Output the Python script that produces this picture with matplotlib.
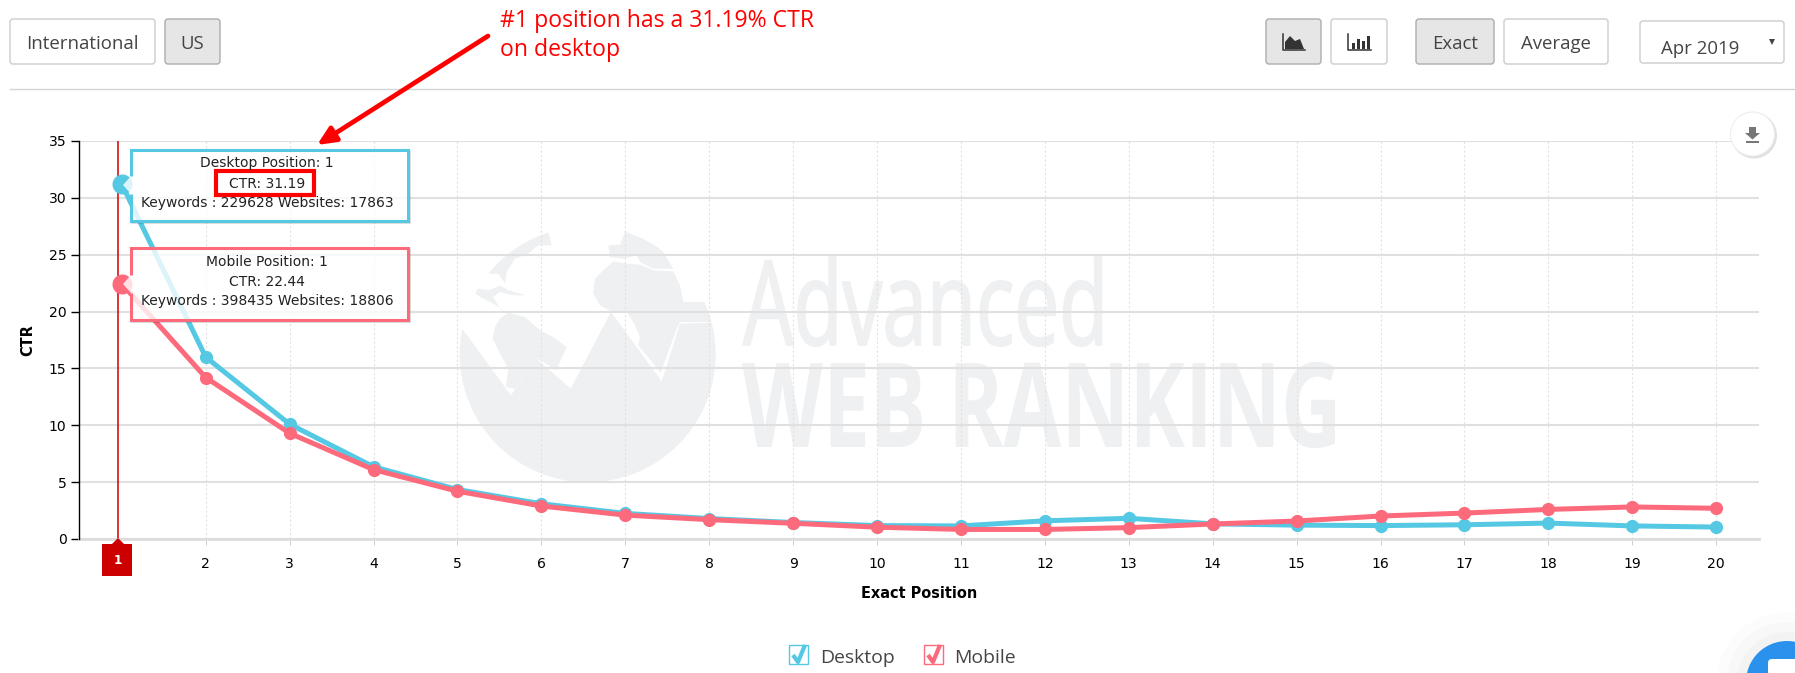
import matplotlib
matplotlib.use("Agg")
import matplotlib.patheffects as pe
import matplotlib.pyplot as plt
from matplotlib.patches import Circle, FancyBboxPatch, Polygon, Rectangle
from matplotlib.transforms import Affine2D

W, H = 1795, 673

positions = list(range(1, 21))
desktop_ctr = [31.19, 16.0, 10.1, 6.35, 4.35, 3.1, 2.25, 1.8, 1.45, 1.18, 1.15, 1.6, 1.82, 1.33,
               1.22, 1.18, 1.25, 1.4, 1.15, 1.05]
mobile_ctr = [22.44, 14.2, 9.3, 6.1, 4.2, 2.9, 2.1, 1.7, 1.38, 1.04, 0.84, 0.84, 1.0, 1.32,
              1.58, 2.02, 2.28, 2.6, 2.82, 2.7]
y_ticks = [0, 5, 10, 15, 20, 25, 30, 35]
top_note = ["#1 position has a 31.19% CTR", "on desktop"]
desktop_tip = ["Desktop Position: 1", "CTR: 31.19", "Keywords : 229628 Websites: 17863"]
mobile_tip = ["Mobile Position: 1", "CTR: 22.44", "Keywords : 398435 Websites: 18806"]

BLUE = "#55c8e4"
PINK = "#fd6a7c"
RED = "#ff0000"
DARK_RED = "#cc0000"
MARK = "#eff0f2"
UI_TEXT = "#444444"


class Squeeze(pe.AbstractPathEffect):
    """Scale glyphs about the baseline, the logo lettering is very condensed."""

    def __init__(self, sx, stroke=0.0):
        super().__init__()
        self.sx = sx
        self.stroke = stroke

    def draw_path(self, renderer, gc, tpath, affine, rgbFace=None):
        gc0 = renderer.new_gc()
        gc0.copy_properties(gc)
        gc0.set_foreground(MARK)
        gc0.set_linewidth(self.stroke)
        renderer.draw_path(gc0, tpath, Affine2D().scale(self.sx, 1.0) + affine, rgbFace)
        gc0.restore()


def px(v):
    return v * 0.72


fig = plt.figure(figsize=(W / 100, H / 100), dpi=100)
fig.patch.set_facecolor("white")

# pixel canvas for the page furniture, y runs down like the screenshot
page = fig.add_axes([0, 0, 1, 1], zorder=0)
page.set_xlim(0, W)
page.set_ylim(H, 0)
page.axis("off")

top = fig.add_axes([0, 0, 1, 1], zorder=5)
top.set_xlim(0, W)
top.set_ylim(H, 0)
top.axis("off")
top.patch.set_alpha(0)


def button(x0, x1, y0, y1, active=False, label=None):
    face = "#e6e6e6" if active else "white"
    edge = "#adadad" if active else "#cccccc"
    page.add_patch(FancyBboxPatch((x0 + 3, y0 + 3), x1 - x0 - 6, y1 - y0 - 6,
                                  boxstyle="round,pad=3,rounding_size=3", fc=face, ec=edge, lw=1))
    if label:
        page.text((x0 + x1) / 2, (y0 + y1) / 2 + 2.5, label, ha="center", va="center",
                  family="Open Sans", fontsize=px(18.6), color=UI_TEXT)


button(10, 155, 19, 64, label="International")
button(165, 220, 19, 64, active=True, label="US")
button(1266, 1321, 19, 64, active=True)
button(1331, 1387, 19, 64)
button(1416, 1494, 19, 64, active=True, label="Exact")
button(1504, 1608, 19, 64, label="Average")
button(1640, 1784, 21, 63)
page.text(1700, 48.5, "Apr 2019", ha="center", va="center", family="Open Sans", fontsize=px(18.6), color=UI_TEXT)
page.add_patch(Polygon([[1769, 39], [1775, 39], [1772, 45]], fc="#444444", ec="none"))
page.plot([10, W], [89, 89], color="#d5d5d5", lw=1)

# area and bar icons on the chart type buttons
page.plot([1283, 1283, 1305], [34, 50, 50], color="#333333", lw=1.1)
page.add_patch(Polygon([[1285, 49], [1285, 42], [1290, 36], [1295, 41], [1300, 39], [1304, 49]],
                       fc="#333333", ec="none"))
page.plot([1348, 1348, 1371], [34, 50, 50], color="#333333", lw=1.1)
for bar_x, bar_top in zip([1352, 1357, 1362, 1367], [43, 39, 41, 36]):
    page.add_patch(Rectangle((bar_x, bar_top), 2.5, 48.5 - bar_top, fc="#333333", ec="none"))

globe = Circle((587.7, 354.3), 128, transform=page.transData)


def wm(points):
    return [[450 + x / 3, 222 + y / 3] for x, y in points]


land = [
    # lower part of the globe with the zigzag cut out of it
    [[0, 300], [33, 315], [183, 520], [258, 408], [362, 500], [483, 270], [635, 478], [690, 305],
     [830, 300], [830, 800], [0, 800]],
    # north america
    [[110, 155], [170, 95], [250, 45], [295, 30], [305, 70], [265, 70], [235, 95], [195, 110],
     [170, 150], [165, 185], [145, 155]],
    [[70, 210], [85, 200], [115, 205], [130, 200], [150, 190], [175, 205], [230, 220], [190, 220],
     [150, 210], [130, 225], [150, 260], [170, 270], [130, 245], [90, 225]],
    # south america
    [[150, 290], [175, 272], [225, 285], [270, 325], [310, 345], [350, 375], [330, 420], [320, 445],
     [280, 420], [258, 408], [195, 500], [168, 495], [175, 440], [150, 395], [128, 350], [135, 315]],
    # europe and asia
    [[475, 70], [510, 68], [525, 30], [500, 15], [530, 25], [600, 55], [640, 90], [670, 140],
     [610, 140], [570, 120], [560, 100], [520, 110], [480, 105]],
    # africa and the rest up to the rim
    [[490, 118], [530, 125], [570, 128], [610, 145], [670, 148], [690, 190], [700, 240], [830, 240],
     [830, 300], [690, 300], [680, 320], [632, 452], [565, 370], [570, 345], [550, 300], [530, 270],
     [483, 268], [450, 250], [430, 215], [435, 170], [460, 145]],
]
for shape in land:
    patch = Polygon(wm(shape), fc=MARK, ec="none")
    page.add_patch(patch)
    patch.set_clip_path(globe)


def logo_word(text, x0, x1, baseline, cap_px, weight, stroke=0.0):
    size = px(cap_px / 0.714)
    t = page.text(x0, baseline, text, family="Open Sans", fontsize=size, fontweight=weight,
                  color=MARK, ha="left", va="baseline")
    fig.canvas.draw()
    width = t.get_window_extent().width
    t.set_path_effects([Squeeze((x1 - x0) / width, stroke)])


logo_word("Advanced", 743, 1108, 345, 84, "normal", stroke=1.3)
logo_word("WEB RANKING", 742, 1342, 447, 84, "bold")

# chart
ax = fig.add_axes([79 / W, 1 - 539 / H, (1759 - 79) / W, (539 - 141) / H], zorder=2)
ax.patch.set_alpha(0)
ax.set_xlim(0.49, 20.51)
ax.set_ylim(0, 35)
ax.set_yticks(y_ticks)
ax.set_xticks(positions[1:])
ax.grid(axis="y", color="#e0e0e0", lw=1.5)
ax.grid(axis="x", color="#e2e2e2", lw=0.8, ls=(0, (2, 2)))
ax.set_axisbelow(True)
for side in ["top", "right", "bottom"]:
    ax.spines[side].set_visible(False)
ax.spines["left"].set_linewidth(1)
ax.tick_params(axis="y", length=6, width=1, labelsize=px(14), pad=3)
ax.tick_params(axis="x", length=4, width=0.7, color="#cccccc", labelsize=px(14), pad=9)
ax.axhline(0, color="#dddddd", lw=2, clip_on=False)
ax.set_xlabel("Exact Position", fontsize=px(14.5), fontweight="bold")
ax.set_ylabel("CTR", fontsize=px(14.5), fontweight="bold")
ax.xaxis.set_label_coords((919 - 79) / (1759 - 79), -(594 - 539) / (539 - 141), transform=ax.transAxes)
ax.xaxis.label.set_va("center")
ax.yaxis.label.set_va("center")
ax.yaxis.set_label_coords((28 - 79) / (1759 - 79), 0.5, transform=ax.transAxes)

ax.axvline(positions[0] - 0.04, color=DARK_RED, lw=1.1, zorder=1.5)
ax.plot(positions, desktop_ctr, color=BLUE, lw=3.6, marker="o", ms=9.5, mew=0, zorder=3, clip_on=False)
ax.plot(positions, mobile_ctr, color=PINK, lw=3.6, marker="o", ms=9.5, mew=0, zorder=4, clip_on=False)
ax.plot(positions[0], desktop_ctr[0], "o", color=BLUE, ms=14.4, mew=0, zorder=5)
ax.plot(positions[0], mobile_ctr[0], "o", color=PINK, ms=14.4, mew=0, zorder=5)

# current position flag under the axis
top.add_patch(Polygon([[102, 544], [112, 544], [118, 538], [124, 544], [132, 544], [132, 576], [102, 576]],
                      fc=DARK_RED, ec="none"))
top.text(117.5, 560, str(positions[0]), color="white", fontsize=px(12), ha="center", va="center", fontweight="bold")


def tooltip(y0, y1, tip_y, colour, lines):
    gap0, gap1 = tip_y - 9, tip_y + 9
    outline = [[131, gap1], [131, y1], [408, y1], [408, y0], [131, y0], [131, gap0]]
    # soft edge under the box, then the see-through body and the pointer
    top.plot([132, 409.5, 409.5], [y1 + 2, y1 + 2, y0 + 2], color="#000000", alpha=0.13, lw=1.5)
    top.add_patch(Rectangle((131, y0), 277, y1 - y0, fc=(1, 1, 1, 0.8), ec="none"))
    top.add_patch(Polygon([[131, gap0], [123, tip_y], [131, gap1]], fc=(1, 1, 1, 0.8), ec="none"))
    top.plot(*zip(*outline), color=colour, lw=2.2, solid_joinstyle="miter", solid_capstyle="butt")
    for i, line in enumerate(lines):
        top.text(267, y0 + 13.5 + 20 * i, line, ha="center", va="center", fontsize=px(13.9), color="#222222")


tooltip(150, 221, 185, BLUE, desktop_tip)
tooltip(248, 320, 284, PINK, mobile_tip)
top.add_patch(Rectangle((216, 171), 98, 24, fc="none", ec=RED, lw=3, joinstyle="miter"))

# hand drawn annotation on top of the screenshot
for i, line in enumerate(top_note):
    top.text(500, 21 + 29 * i, line, color=RED, family="Open Sans", fontsize=px(23), ha="left", va="center")
top.annotate("", xy=(317, 145), xytext=(488, 36),
             arrowprops=dict(arrowstyle="-|>,head_length=1.1,head_width=0.5", color=RED, lw=3.4,
                             shrinkA=0, shrinkB=0))

# export button
top.add_patch(Circle((1754, 135.5), 23, fc="#000000", alpha=0.12, ec="none"))
top.add_patch(Circle((1752.5, 134), 22, fc="white", ec="#eeeeee", lw=0.8))
top.add_patch(Polygon([[1749, 127], [1756, 127], [1756, 133], [1760, 133], [1752.5, 139.5], [1745, 133], [1749, 133]],
                      fc="#777777", ec="none"))
top.add_patch(Rectangle((1746, 141), 13, 2, fc="#777777", ec="none"))


def legend_item(x0, colour, label, text_x):
    top.add_patch(Rectangle((x0, 645), 19, 19, fc="white", ec=colour, lw=1))
    top.plot([x0 + 4, x0 + 9, x0 + 16], [655, 662, 645], color=colour, lw=3, solid_capstyle="butt")
    top.text(text_x, 658, label, family="Open Sans", fontsize=px(19.4), color=UI_TEXT, ha="left", va="center")


legend_item(789, BLUE, "Desktop", 820)
legend_item(924, PINK, "Mobile", 954)

# chat widget cut by the page corner, with its faint glow
for glow_r, glow_a in [(70, 0.012), (60, 0.015), (50, 0.02)]:
    top.add_patch(Circle((1787, 682), glow_r, fc="#000000", alpha=glow_a, ec="none"))
top.add_patch(Circle((1787, 682), 41, fc="#2a92ec", ec="none"))
top.add_patch(FancyBboxPatch((1768, 659), 50, 40, boxstyle="round,pad=0,rounding_size=4", fc="white", ec="none"))

fig.savefig("out.png", dpi=100)
